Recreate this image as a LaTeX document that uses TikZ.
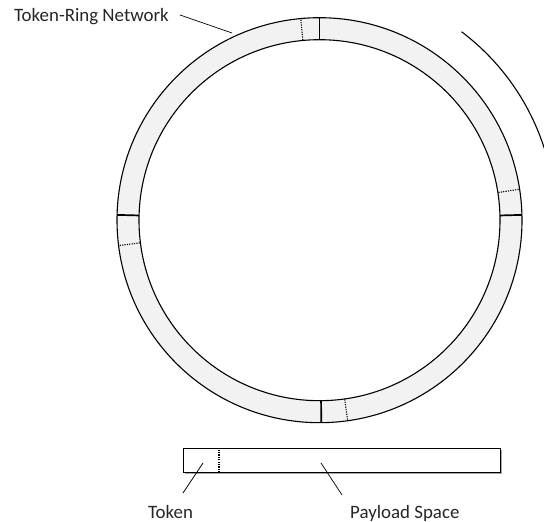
\documentclass[tikz,border=0pt]{standalone}
\usepackage{fontspec}
\setmainfont{Carlito}
\usetikzlibrary{shadows,calc}
\definecolor{ringgray}{HTML}{F2F2F2}
\tikzset{
  lbl/.style={inner sep=0pt, font=\fontsize{18.9}{21}\selectfont, text=black!85},
  edge/.style={line width=1.1pt},
  sep/.style={line width=1.7pt},
  dotsep/.style={line width=1.1pt, dash pattern=on 1.2pt off 1.2pt},
  leader/.style={line width=0.7pt},
}
\begin{document}
\begin{tikzpicture}[x=1pt,y=1pt]
\useasboundingbox (0,0) rectangle (544,522);
\clip (0,0) rectangle (544,522);
\coordinate (c) at (319.5,301.8);
% ring
\fill[ringgray, even odd rule] (c) circle (202.5) (c) circle (180.5);
\draw[edge] (c) circle (202.5);
\draw[edge] (c) circle (180.5);
% token separators
\foreach \a in {90,1.5,178.5,270.5}
  \draw[sep] ($(c)+(\a:180.5)$) -- ($(c)+(\a:202.5)$);
\foreach \a in {95.3,8.8,187.2,278}
  \draw[dotsep] ($(c)+(\a:181)$) -- ($(c)+(\a:202)$);
% direction arc
\draw[edge] ($(c)+(53:236)$) arc (53:16:236);
% label Token-Ring Network
\node[lbl, anchor=base west] (trn) at (14,500) {Token-Ring Network};
\coordinate (trnA) at (180,507);
\coordinate (trnB) at (232,489);
\draw[leader] (trnA) -- (trnB);
% frame bar
\node[draw, line width=1.1pt, fill=white, minimum width=317pt, minimum height=24pt,
      inner sep=0pt, anchor=south west,
      drop shadow={shadow xshift=1.2pt, shadow yshift=-1.2pt, opacity=0.35, fill=black}] (bar) at (183,49) {};
\draw[dotsep] (219,49.5) -- (219,72.5);
% labels below
\node[lbl, anchor=base west] (tok) at (148,3.7) {Token};
\node[lbl, anchor=base west] (pay) at (350,3.7) {Payload Space};
\coordinate (tokA) at (183,29);
\coordinate (tokB) at (203,59);
\coordinate (payA) at (342,27);
\coordinate (payB) at (321,59);
\draw[leader] (tokA) -- (tokB);
\draw[leader] (payA) -- (payB);
\end{tikzpicture}
\end{document}
